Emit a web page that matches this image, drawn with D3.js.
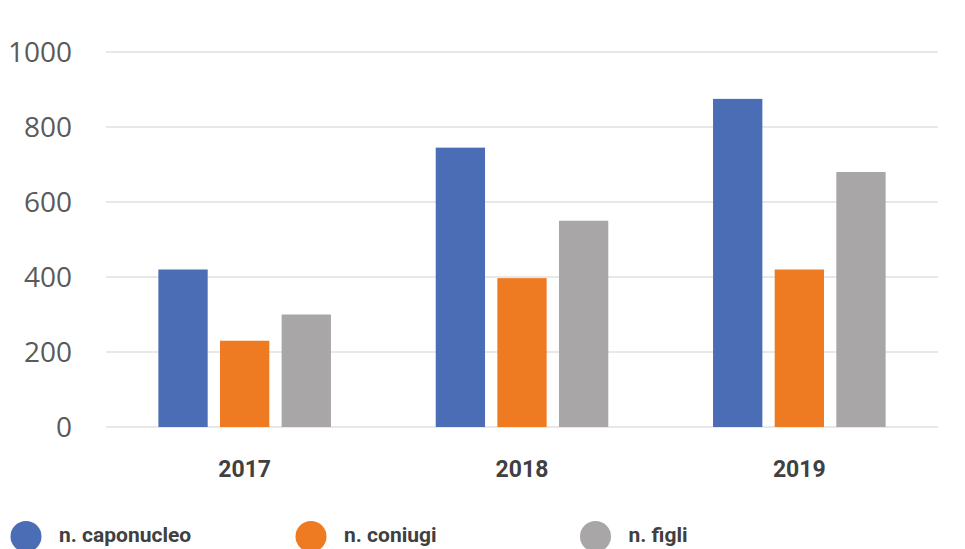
<!DOCTYPE html>
<html>
<head>
<meta charset="utf-8">
<script src="https://cdn.jsdelivr.net/npm/d3@7"></script>
<style>
  html, body { margin: 0; padding: 0; background: #fff; }
  svg { display: block; }
</style>
</head>
<body>
<svg id="chart" width="965" height="549"></svg>
<script>
const years = ["2017", "2018", "2019"];
const seriesNames = ["n. caponucleo", "n. coniugi", "n. figli"];
const caponucleo = [420, 745, 875];
const coniugi = [230, 397, 420];
const figli = [300, 550, 680];
const yTicks = [0, 200, 400, 600, 800, 1000];
const colors = ["#4A6DB5", "#EE7A22", "#A8A6A6"];

const seriesValues = [caponucleo, coniugi, figli];
const rows = years.map((yr, i) => ({ year: yr, values: seriesValues.map(s => s[i]) }));

const svg = d3.select("#chart");
const plotLeft = 106, plotRight = 938, plotTop = 52, plotBottom = 427;

const y = d3.scaleLinear().domain([0, 1000]).range([plotBottom, plotTop]);
const x0 = d3.scaleBand().domain(years).range([plotLeft, plotRight]).paddingInner(0).paddingOuter(0);
const x1 = d3.scaleBand().domain(d3.range(seriesNames.length)).range([0, x0.bandwidth()])
  .paddingInner(0.2).paddingOuter(0.85);

// gridlines
svg.append("g").selectAll("line").data(yTicks).join("line")
  .attr("x1", plotLeft).attr("x2", plotRight)
  .attr("y1", d => y(d)).attr("y2", d => y(d))
  .attr("stroke", "#e0e0e0").attr("stroke-width", 1.5);

// y tick labels
svg.append("g").selectAll("text").data(yTicks).join("text")
  .attr("x", 72).attr("y", d => y(d)).attr("dy", "0.36em")
  .attr("text-anchor", "end")
  .attr("font-family", "'Open Sans', 'Liberation Sans', sans-serif")
  .attr("font-size", 28)
  .attr("fill", "#5a5a5a")
  .text(d => d);

// bars
const groups = svg.append("g").selectAll("g").data(rows).join("g")
  .attr("transform", d => `translate(${x0(d.year)},0)`);
groups.selectAll("rect").data(d => d.values.map((v, i) => ({ v, i }))).join("rect")
  .attr("x", d => x1(d.i))
  .attr("width", x1.bandwidth())
  .attr("y", d => y(d.v))
  .attr("height", d => y(0) - y(d.v))
  .attr("fill", d => colors[d.i]);

// x labels
svg.append("g").selectAll("text").data(years).join("text")
  .attr("x", d => x0(d) + x0.bandwidth() / 2)
  .attr("y", 477)
  .attr("text-anchor", "middle")
  .attr("font-family", "Roboto, sans-serif")
  .attr("font-weight", 700)
  .attr("font-size", 23)
  .attr("fill", "#404040")
  .text(d => d);

// legend
const legendX = [26, 311, 595.5];
const legend = svg.append("g").selectAll("g").data(seriesNames).join("g")
  .attr("transform", (d, i) => `translate(${legendX[i]},0)`);
legend.append("circle").attr("cx", 0).attr("cy", 536.5).attr("r", 15.5)
  .attr("fill", (d, i) => colors[i]);
legend.append("text").attr("x", 33).attr("y", 542)
  .attr("font-family", "Roboto, sans-serif")
  .attr("font-weight", 700)
  .attr("font-size", 21)
  .attr("fill", "#404040")
  .text(d => d);
</script>
</body>
</html>
